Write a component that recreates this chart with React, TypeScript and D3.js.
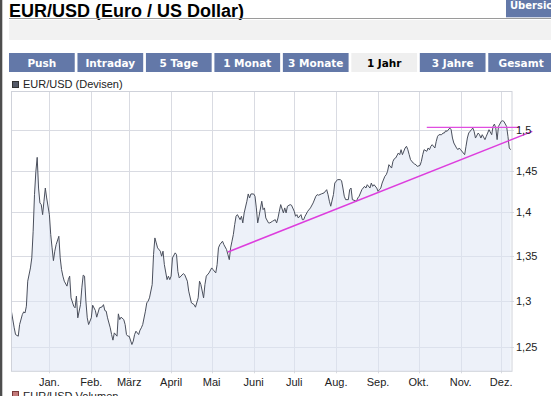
import React, { useEffect, useRef } from 'react';
import * as d3 from 'd3';

// EUR/USD daily close, Dec 2008 - Dec 2009
const dates = [
    "2008-12-04", "2008-12-06", "2008-12-07", "2008-12-09", "2008-12-10", "2008-12-12", "2008-12-13", "2008-12-14",
    "2008-12-15", "2008-12-16", "2008-12-18", "2008-12-19", "2008-12-20", "2008-12-21", "2008-12-22", "2008-12-23",
    "2008-12-24", "2008-12-25", "2008-12-26", "2008-12-27", "2008-12-28", "2008-12-29", "2008-12-30",
    "2009-01-01", "2009-01-02", "2009-01-03", "2009-01-04", "2009-01-05", "2009-01-06", "2009-01-08", "2009-01-09",
    "2009-01-10", "2009-01-11", "2009-01-12", "2009-01-14", "2009-01-15", "2009-01-16", "2009-01-17", "2009-01-19",
    "2009-01-20", "2009-01-21", "2009-01-22", "2009-01-24", "2009-01-25", "2009-01-26", "2009-01-27", "2009-01-28",
    "2009-01-29", "2009-01-30",
    "2009-02-01", "2009-02-02", "2009-02-04", "2009-02-05", "2009-02-07", "2009-02-09", "2009-02-10", "2009-02-11",
    "2009-02-12", "2009-02-13", "2009-02-15", "2009-02-16", "2009-02-17", "2009-02-18", "2009-02-20", "2009-02-21",
    "2009-02-22", "2009-02-23", "2009-02-25", "2009-02-26", "2009-02-27", "2009-02-28",
    "2009-03-01", "2009-03-03", "2009-03-04", "2009-03-05", "2009-03-06", "2009-03-08", "2009-03-09", "2009-03-10",
    "2009-03-11", "2009-03-13", "2009-03-14", "2009-03-15", "2009-03-16", "2009-03-18", "2009-03-19", "2009-03-20",
    "2009-03-21", "2009-03-22", "2009-03-24", "2009-03-25", "2009-03-26", "2009-03-27", "2009-03-29", "2009-03-30",
    "2009-03-31",
    "2009-04-01", "2009-04-02", "2009-04-04", "2009-04-05", "2009-04-06", "2009-04-07", "2009-04-10", "2009-04-11",
    "2009-04-13", "2009-04-14", "2009-04-16", "2009-04-18", "2009-04-19", "2009-04-21", "2009-04-22", "2009-04-23",
    "2009-04-25", "2009-04-26", "2009-04-27", "2009-04-29",
    "2009-05-01", "2009-05-02", "2009-05-04", "2009-05-05", "2009-05-06", "2009-05-07", "2009-05-09", "2009-05-10",
    "2009-05-12", "2009-05-13", "2009-05-14", "2009-05-15", "2009-05-16", "2009-05-17", "2009-05-18", "2009-05-19",
    "2009-05-20", "2009-05-22", "2009-05-23", "2009-05-24", "2009-05-25", "2009-05-27", "2009-05-28", "2009-05-29",
    "2009-05-30",
    "2009-06-01", "2009-06-02", "2009-06-03", "2009-06-04", "2009-06-05", "2009-06-07", "2009-06-08", "2009-06-09",
    "2009-06-10", "2009-06-12", "2009-06-13", "2009-06-15", "2009-06-17", "2009-06-18", "2009-06-19", "2009-06-20",
    "2009-06-21", "2009-06-23", "2009-06-24", "2009-06-25", "2009-06-26", "2009-06-28", "2009-06-29",
    "2009-07-01", "2009-07-02", "2009-07-03", "2009-07-04", "2009-07-06", "2009-07-07", "2009-07-08", "2009-07-09",
    "2009-07-11", "2009-07-13", "2009-07-15", "2009-07-17", "2009-07-18", "2009-07-19", "2009-07-21", "2009-07-23",
    "2009-07-25", "2009-07-26", "2009-07-27", "2009-07-28", "2009-07-30", "2009-07-31",
    "2009-08-02", "2009-08-04", "2009-08-05", "2009-08-06", "2009-08-07", "2009-08-08", "2009-08-10", "2009-08-11",
    "2009-08-12", "2009-08-13", "2009-08-15", "2009-08-16", "2009-08-17", "2009-08-18", "2009-08-20", "2009-08-21",
    "2009-08-22", "2009-08-23", "2009-08-24", "2009-08-26", "2009-08-27", "2009-08-28", "2009-08-29", "2009-08-31",
    "2009-09-01", "2009-09-02", "2009-09-03", "2009-09-04", "2009-09-06", "2009-09-07", "2009-09-08", "2009-09-09",
    "2009-09-11", "2009-09-12", "2009-09-13", "2009-09-14", "2009-09-16", "2009-09-17", "2009-09-18", "2009-09-19",
    "2009-09-21", "2009-09-22", "2009-09-23", "2009-09-24", "2009-09-25", "2009-09-27", "2009-09-28", "2009-09-29",
    "2009-09-30",
    "2009-10-02", "2009-10-03", "2009-10-04", "2009-10-05", "2009-10-07", "2009-10-08", "2009-10-09", "2009-10-10",
    "2009-10-11", "2009-10-13", "2009-10-14", "2009-10-15", "2009-10-16", "2009-10-18", "2009-10-19", "2009-10-20",
    "2009-10-21", "2009-10-22", "2009-10-24", "2009-10-25", "2009-10-26", "2009-10-27", "2009-10-29", "2009-10-30",
    "2009-10-31",
    "2009-11-01", "2009-11-03", "2009-11-04", "2009-11-05", "2009-11-06", "2009-11-07", "2009-11-09", "2009-11-10",
    "2009-11-11", "2009-11-12", "2009-11-14", "2009-11-15", "2009-11-16", "2009-11-17", "2009-11-19", "2009-11-20",
    "2009-11-21", "2009-11-22", "2009-11-24", "2009-11-25", "2009-11-26", "2009-11-27", "2009-11-28", "2009-11-29",
    "2009-11-30",
    "2009-12-01", "2009-12-02", "2009-12-03", "2009-12-05", "2009-12-06", "2009-12-07", "2009-12-08"
];

const rates = [
    1.2877, 1.2706, 1.2634, 1.2617, 1.2741, 1.2848, 1.2877, 1.2866,
    1.2939, 1.3214, 1.3362, 1.3475, 1.3780, 1.4210, 1.4488, 1.4663,
    1.4290, 1.4112, 1.4092, 1.3974, 1.4132, 1.4290, 1.4171,
    1.3974, 1.3741, 1.3589, 1.3444, 1.3551, 1.3626, 1.3722, 1.3475,
    1.3343, 1.3270, 1.3214, 1.3159, 1.3231, 1.3270, 1.3030, 1.2939,
    1.2921, 1.3049, 1.2813, 1.2956, 1.3140, 1.3281, 1.3270, 1.2994,
    1.2813, 1.2741,
    1.2813, 1.2950, 1.2892, 1.2820, 1.2921, 1.2932, 1.2956, 1.2892,
    1.2885, 1.2813, 1.2706, 1.2634, 1.2575, 1.2652, 1.2617, 1.2856,
    1.2794, 1.2820, 1.2794, 1.2741, 1.2634, 1.2617,
    1.2617, 1.2529, 1.2564, 1.2634, 1.2670, 1.2634, 1.2681, 1.2706,
    1.2741, 1.2885, 1.2975, 1.2994, 1.3030, 1.3176, 1.3512, 1.3703,
    1.3646, 1.3589, 1.3551, 1.3494, 1.3551, 1.3399, 1.3231, 1.3270,
    1.3231,
    1.3270, 1.3475, 1.3532, 1.3512, 1.3322, 1.3250, 1.3298, 1.3287,
    1.3214, 1.3104, 1.2975, 1.2956, 1.2928, 1.3030, 1.3214, 1.3176,
    1.3030, 1.3176, 1.3270, 1.3306,
    1.3362, 1.3343, 1.3306, 1.3399, 1.3589, 1.3626, 1.3665, 1.3626,
    1.3569, 1.3512, 1.3455, 1.3589, 1.3665, 1.3741, 1.3857, 1.3955,
    1.3974, 1.3915, 1.3955, 1.3877, 1.3994, 1.4132, 1.4219, 1.4171,
    1.4219,
    1.4219, 1.4192, 1.4053, 1.3877, 1.3955, 1.4132, 1.4033, 1.4053,
    1.3935, 1.3877, 1.3877, 1.3897, 1.3915, 1.3877, 1.3935, 1.4014,
    1.4092, 1.3994, 1.4053, 1.3994, 1.4073, 1.4092, 1.4085,
    1.4014, 1.3955, 1.3974, 1.3935, 1.3974, 1.3915, 1.3915, 1.3955,
    1.4014, 1.4053, 1.4112, 1.4192, 1.4211, 1.4204, 1.4219, 1.4231,
    1.4270, 1.4211, 1.4132, 1.4073, 1.4211, 1.4350,
    1.4391, 1.4391, 1.4378, 1.4290, 1.4192, 1.4151, 1.4151, 1.4270,
    1.4290, 1.4151, 1.4139, 1.4132, 1.4171, 1.4192, 1.4270, 1.4290,
    1.4310, 1.4290, 1.4330, 1.4290, 1.4350, 1.4310, 1.4330, 1.4290,
    1.4250, 1.4270, 1.4290, 1.4350, 1.4431, 1.4450, 1.4492, 1.4573,
    1.4532, 1.4614, 1.4646, 1.4655, 1.4717, 1.4696, 1.4758, 1.4696,
    1.4779, 1.4800, 1.4758, 1.4696, 1.4634, 1.4593, 1.4581, 1.4573,
    1.4552,
    1.4564, 1.4614, 1.4696, 1.4758, 1.4738, 1.4779, 1.4758, 1.4800,
    1.4820, 1.4779, 1.4862, 1.4925, 1.4945, 1.4945, 1.4966, 1.4966,
    1.4995, 1.4987, 1.5029, 1.5008, 1.4903, 1.4841, 1.4779, 1.4758,
    1.4779,
    1.4758, 1.4717, 1.4696, 1.4800, 1.4903, 1.4966, 1.5008, 1.5029,
    1.4987, 1.4903, 1.4966, 1.4945, 1.4903, 1.4945, 1.4883, 1.4925,
    1.4966, 1.5008, 1.4945, 1.5050, 1.5079, 1.5029, 1.4883, 1.5050,
    1.5079,
    1.5113, 1.5121, 1.5113, 1.5050, 1.4925, 1.4779, 1.4758
];

const xDomain = ["2008-12-04", "2009-12-09"];
const yDomain = [1.225, 1.5504];
const yTicks = [1.25, 1.3, 1.35, 1.4, 1.45, 1.5];
const monthTicks = ["2009-01-01", "2009-02-01", "2009-03-01", "2009-04-01", "2009-05-01", "2009-06-01",
    "2009-07-01", "2009-08-01", "2009-09-01", "2009-10-01", "2009-11-01", "2009-12-01"];
const monthLabels = ["Jan.", "Feb.", "März", "April", "Mai", "Juni", "Juli", "Aug.", "Sep.", "Okt.", "Nov.", "Dez."];

// drawn trend lines
const supportDates = ["2009-05-13", "2009-12-24"];
const supportValues = [1.3542, 1.4987];
const resistanceDates = ["2009-10-07", "2009-12-15"];
const resistanceValues = [1.5038, 1.5038];

const tabs = ["Push", "Intraday", "5 Tage", "1 Monat", "3 Monate", "1 Jahr", "3 Jahre", "Gesamt"];
const activeTab = "1 Jahr";

const W = 551;
const H = 396;
const plot = { left: 11.5, right: 512, top: 91, bottom: 371.3 };
const FONT = '"Liberation Sans", Arial, sans-serif';
const TAB_FONT = '"DejaVu Sans", Verdana, sans-serif';
const tabBlue = '#6378a8';

const crisp = (v: number) => Math.round(v) + 0.5;

const App = () => {
    const svgRef = useRef<SVGSVGElement>(null);

    useEffect(() => {
        const svg = d3.select(svgRef.current);
        svg.selectAll('*').remove();

        const parse = d3.timeParse('%Y-%m-%d');
        const series = dates.map((d, i) => ({ date: parse(d) as Date, value: rates[i] }));

        const x = d3.scaleTime()
            .domain(xDomain.map((d) => parse(d) as Date))
            .range([plot.left, plot.right]);
        const y = d3.scaleLog()
            .domain(yDomain)
            .range([plot.bottom, plot.top]);

        // page frame
        svg.append('rect').attr('x', 0).attr('y', 0).attr('width', 2.3).attr('height', H).attr('fill', '#4d4d4d');

        // header
        svg.append('text')
            .attr('x', 9).attr('y', 17)
            .style('font-family', FONT).style('font-size', '18px').style('font-weight', 'bold')
            .attr('fill', '#000')
            .text('EUR/USD (Euro / US Dollar)');
        svg.append('rect').attr('x', 506).attr('y', 0).attr('width', 45).attr('height', 17.3).attr('fill', tabBlue);
        svg.append('text')
            .attr('x', 510).attr('y', 8.5)
            .style('font-family', TAB_FONT).style('font-size', '10px').style('font-weight', 'bold')
            .attr('fill', '#fff')
            .text('Übersicht');
        svg.append('line').attr('x1', 9).attr('x2', W).attr('y1', 18.5).attr('y2', 18.5)
            .attr('stroke', '#9a9a9a');
        svg.append('rect').attr('x', 9).attr('y', 20).attr('width', W - 9).attr('height', 20).attr('fill', '#f2f2f2');

        // period tabs
        const band = d3.scaleBand().domain(tabs).range([9, 554]).paddingInner(0.04);
        const tabG = svg.append('g');
        tabG.selectAll('rect')
            .data(tabs)
            .enter()
            .append('rect')
            .attr('x', (d) => band(d) as number)
            .attr('y', 53)
            .attr('width', band.bandwidth())
            .attr('height', 19)
            .attr('fill', (d) => (d === activeTab ? '#efefef' : tabBlue));
        tabG.selectAll('text')
            .data(tabs)
            .enter()
            .append('text')
            .attr('x', (d) => (band(d) as number) + band.bandwidth() / 2)
            .attr('y', 66.5)
            .attr('text-anchor', 'middle')
            .style('font-family', TAB_FONT).style('font-size', '10.5px').style('font-weight', 'bold')
            .attr('fill', (d) => (d === activeTab ? '#000' : '#fff'))
            .text((d) => d);

        // legend
        svg.append('rect').attr('x', 12.5).attr('y', 81.5).attr('width', 6).attr('height', 6)
            .attr('fill', '#555a68').attr('stroke', '#333');
        svg.append('text').attr('x', 23).attr('y', 88)
            .style('font-family', FONT).style('font-size', '11px').attr('fill', '#222')
            .text('EUR/USD (Devisen)');

        // plot background + grid
        svg.append('rect')
            .attr('x', plot.left).attr('y', plot.top)
            .attr('width', plot.right - plot.left).attr('height', plot.bottom - plot.top)
            .attr('fill', '#fff');

        const grid = svg.append('g').attr('stroke', '#d9dbe2').attr('stroke-width', 1);
        grid.selectAll('.h')
            .data(yTicks)
            .enter()
            .append('line')
            .attr('x1', plot.left).attr('x2', plot.right + 2)
            .attr('y1', (d) => crisp(y(d))).attr('y2', (d) => crisp(y(d)));
        grid.selectAll('.v')
            .data(monthTicks)
            .enter()
            .append('line')
            .attr('x1', (d) => crisp(x(parse(d) as Date))).attr('x2', (d) => crisp(x(parse(d) as Date)))
            .attr('y1', plot.top).attr('y2', plot.bottom + 2);

        // price area + line
        svg.append('clipPath').attr('id', 'plot-clip')
            .append('rect')
            .attr('x', plot.left).attr('y', plot.top)
            .attr('width', plot.right - plot.left).attr('height', plot.bottom - plot.top);

        const area = d3.area<{ date: Date; value: number }>()
            .x((d) => x(d.date))
            .y0(plot.bottom)
            .y1((d) => y(d.value));
        const line = d3.line<{ date: Date; value: number }>()
            .x((d) => x(d.date))
            .y((d) => y(d.value));

        const chart = svg.append('g').attr('clip-path', 'url(#plot-clip)');
        // grid shows faintly through the area
        chart.append('path').datum(series).attr('d', area)
            .attr('fill', '#dfe5f4').attr('fill-opacity', 0.55);
        chart.append('path').datum(series).attr('d', line)
            .attr('fill', 'none').attr('stroke', '#4a4f5c').attr('stroke-width', 1)
            .attr('stroke-linejoin', 'round');

        // frame
        svg.append('rect')
            .attr('x', plot.left).attr('y', plot.top + 0.5)
            .attr('width', plot.right - plot.left).attr('height', plot.bottom - plot.top - 0.5)
            .attr('fill', 'none').attr('stroke', '#cfd2da');

        // trend lines
        const trend = d3.line<[string, number]>()
            .x((d) => x(parse(d[0]) as Date))
            .y((d) => y(d[1]));
        svg.append('path')
            .datum(resistanceDates.map((d, i) => [d, resistanceValues[i]] as [string, number]))
            .attr('d', trend)
            .attr('fill', 'none').attr('stroke', '#e04ee0').attr('stroke-width', 1.3);
        svg.append('path')
            .datum(supportDates.map((d, i) => [d, supportValues[i]] as [string, number]))
            .attr('d', trend)
            .attr('fill', 'none').attr('stroke', '#dd3ddd').attr('stroke-width', 1.5);

        // axis labels
        svg.append('g').selectAll('text')
            .data(yTicks)
            .enter()
            .append('text')
            .attr('x', 516)
            .attr('y', (d) => y(d) + 4)
            .style('font-family', FONT).style('font-size', '11px').attr('fill', '#222')
            .text((d) => d3.format('.2~f')(d).replace('.', ','));

        svg.append('g').selectAll('text')
            .data(monthTicks)
            .enter()
            .append('text')
            .attr('x', (d) => x(parse(d) as Date))
            .attr('y', 385.5)
            .attr('text-anchor', 'middle')
            .style('font-family', FONT).style('font-size', '11px').attr('fill', '#222')
            .text((d, i) => monthLabels[i]);

        // second legend (volume panel, cut off at the bottom)
        svg.append('rect').attr('x', 12.5).attr('y', 391.5).attr('width', 6).attr('height', 6)
            .attr('fill', '#c47a7a').attr('stroke', '#7a3a3a');
        svg.append('text').attr('x', 23).attr('y', 400)
            .style('font-family', FONT).style('font-size', '11px').attr('fill', '#222')
            .text('EUR/USD Volumen');
    }, []);

    return (
        <div style={{ position: 'absolute', left: 0, top: 0, width: W, height: H, overflow: 'hidden', background: '#fff' }}>
            <svg ref={svgRef} width={W} height={H} style={{ display: 'block' }} />
        </div>
    );
};

export default App;
